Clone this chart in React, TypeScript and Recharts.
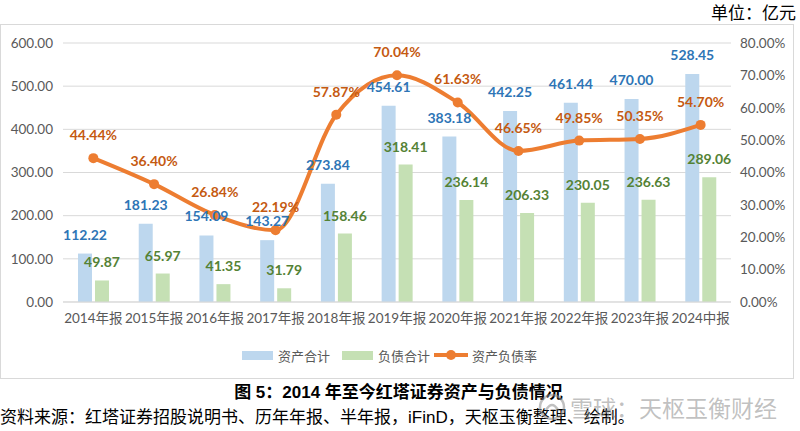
import React from 'react';
import {
  ComposedChart, Bar, Line, XAxis, YAxis, CartesianGrid, LabelList,
} from 'recharts';

const categories = ['2014年报', '2015年报', '2016年报', '2017年报', '2018年报', '2019年报', '2020年报', '2021年报', '2022年报', '2023年报', '2024中报'];
const assets = [112.22, 181.23, 154.09, 143.27, 273.84, 454.61, 383.18, 442.25, 461.44, 470.0, 528.45];
const liabilities = [49.87, 65.97, 41.35, 31.79, 158.46, 318.41, 236.14, 206.33, 230.05, 236.63, 289.06];
const ratio = [44.44, 36.4, 26.84, 22.19, 57.87, 70.04, 61.63, 46.65, 49.85, 50.35, 54.7];
const leftTicks = [0, 100, 200, 300, 400, 500, 600];
const rightTicks = [0, 10, 20, 30, 40, 50, 60, 70, 80];

const data = categories.map((c, i) => ({
  name: c,
  assets: assets[i],
  liabilities: liabilities[i],
  ratio: ratio[i],
}));

const FONT = 'Lato, "Noto Sans CJK SC", sans-serif';
const BLUE_BAR = '#BDD7EE';
const GREEN_BAR = '#C5E0B4';
const ORANGE = '#ED7D31';
const BLUE_TXT = '#2E75B6';
const GREEN_TXT = '#548235';
const ORANGE_TXT = '#C55A11';
const AXIS_TXT = '#595959';

const barLabel = (color: string, lift: number) => (props: any) => {
  const { x, y, width, value } = props;
  return (
    <text
      x={Number(x) + Number(width) / 2}
      y={Number(y) - lift}
      textAnchor="middle"
      fill={color}
      fontFamily={FONT}
      fontWeight={700}
      fontSize={14}
    >
      {Number(value).toFixed(2)}
    </text>
  );
};

const lineLabel = (props: any) => {
  const { x, y, value } = props;
  return (
    <text
      x={Number(x)}
      y={Number(y) - 18}
      textAnchor="middle"
      fill={ORANGE_TXT}
      fontFamily={FONT}
      fontWeight={700}
      fontSize={14}
    >
      {Number(value).toFixed(2) + '%'}
    </text>
  );
};

export default function App() {
  return (
    <div style={{ position: 'absolute', left: 0, top: 0, width: 800, height: 431, background: '#fff', overflow: 'hidden' }}>
      <div style={{ position: 'absolute', left: 0, top: 24, width: 792, height: 353, border: '1px solid #D9D9D9' }} />
      <div style={{ position: 'absolute', left: 711, top: 1, fontSize: 17, fontFamily: '"Noto Sans CJK SC", sans-serif', color: '#000', lineHeight: '22px', whiteSpace: 'nowrap' }}>
        单位：亿元
      </div>
      <div style={{ position: 'absolute', left: 0, top: 0 }}>
        <ComposedChart
          width={800}
          height={431}
          data={data}
          margin={{ top: 43, right: 9, bottom: 99, left: 0 }}
          barGap={3}
        >
          <CartesianGrid yAxisId="left" vertical={false} stroke="#D9D9D9" strokeWidth={1} />
          <XAxis
            dataKey="name"
            height={30}
            tickLine={false}
            tickSize={0}
            tickMargin={11}
            axisLine={{ stroke: '#D9D9D9' }}
            interval={0}
            tick={{ fill: AXIS_TXT, fontSize: 13.5, fontFamily: FONT }}
          />
          <YAxis
            yAxisId="left"
            orientation="left"
            width={63}
            domain={[0, 600]}
            ticks={leftTicks}
            axisLine={false}
            tickLine={false}
            tickSize={0}
            tickMargin={10}
            tickFormatter={(v: number) => v.toFixed(2)}
            tick={{ fill: AXIS_TXT, fontSize: 13.5, fontFamily: FONT }}
          />
          <YAxis
            yAxisId="right"
            orientation="right"
            width={60}
            domain={[0, 80]}
            ticks={rightTicks}
            axisLine={false}
            tickLine={false}
            tickSize={0}
            tickMargin={9}
            tickFormatter={(v: number) => v.toFixed(2) + '%'}
            tick={{ fill: AXIS_TXT, fontSize: 13.5, fontFamily: FONT, textAnchor: 'start' }}
          />
          <Bar yAxisId="left" dataKey="assets" name="资产合计" fill={BLUE_BAR} barSize={14} isAnimationActive={false}>
            <LabelList dataKey="assets" content={barLabel(BLUE_TXT, 14)} />
          </Bar>
          <Bar yAxisId="left" dataKey="liabilities" name="负债合计" fill={GREEN_BAR} barSize={14} isAnimationActive={false}>
            <LabelList dataKey="liabilities" content={barLabel(GREEN_TXT, 13)} />
          </Bar>
          <Line
            yAxisId="right"
            type="monotone"
            dataKey="ratio"
            name="资产负债率"
            stroke={ORANGE}
            strokeWidth={4}
            dot={{ r: 5, fill: ORANGE, stroke: ORANGE, strokeWidth: 0 }}
            isAnimationActive={false}
          >
            <LabelList dataKey="ratio" content={lineLabel} />
          </Line>
        </ComposedChart>
      </div>
      {/* legend */}
      <div style={{ position: 'absolute', left: 242, top: 345, height: 20, display: 'flex', alignItems: 'center', fontFamily: '"Noto Sans CJK SC", sans-serif', fontSize: 13, color: AXIS_TXT, whiteSpace: 'nowrap' }}>
        <span style={{ display: 'inline-block', width: 31, height: 9, background: BLUE_BAR, marginRight: 5 }} />
        <span style={{ marginRight: 12 }}>资产合计</span>
        <span style={{ display: 'inline-block', width: 31, height: 9, background: GREEN_BAR, marginRight: 5 }} />
        <span style={{ marginRight: 3 }}>负债合计</span>
        <svg width={36} height={12} style={{ marginRight: 3 }}>
          <line x1={1} y1={6} x2={35} y2={6} stroke={ORANGE} strokeWidth={4} />
          <circle cx={18} cy={6} r={5} fill={ORANGE} />
        </svg>
        <span>资产负债率</span>
      </div>
      {/* title */}
      <div style={{ position: 'absolute', left: 0, top: 381, width: 797, textAlign: 'center', fontSize: 17, fontWeight: 700, fontFamily: '"Liberation Sans", "Noto Sans CJK SC", sans-serif', color: '#000', lineHeight: '24px', whiteSpace: 'nowrap' }}>
        图 5：2014 年至今红塔证券资产与负债情况
      </div>
      {/* source */}
      <div style={{ position: 'absolute', left: 0, top: 406, fontSize: 17, fontFamily: '"Liberation Sans", "Noto Sans CJK SC", sans-serif', color: '#000', lineHeight: '24px', whiteSpace: 'nowrap' }}>
        资料来源：红塔证券招股说明书、历年年报、半年报，iFinD，天枢玉衡整理、绘制。
      </div>
      {/* watermark */}
      <div style={{ position: 'absolute', left: 537, top: 392, display: 'flex', alignItems: 'center', color: 'rgba(140,140,140,0.55)', fontFamily: '"Noto Sans CJK SC", sans-serif', fontSize: 23, lineHeight: '30px', whiteSpace: 'nowrap' }}>
        <svg width={30} height={30} style={{ marginRight: 3 }}>
          <circle cx={15} cy={15} r={12} fill="none" stroke="rgba(140,140,140,0.55)" strokeWidth={2.5} />
          <path d="M9 18 q6 -10 12 0" fill="none" stroke="rgba(140,140,140,0.55)" strokeWidth={2.5} />
        </svg>
        <span>雪球：天枢玉衡财经</span>
      </div>
    </div>
  );
}
